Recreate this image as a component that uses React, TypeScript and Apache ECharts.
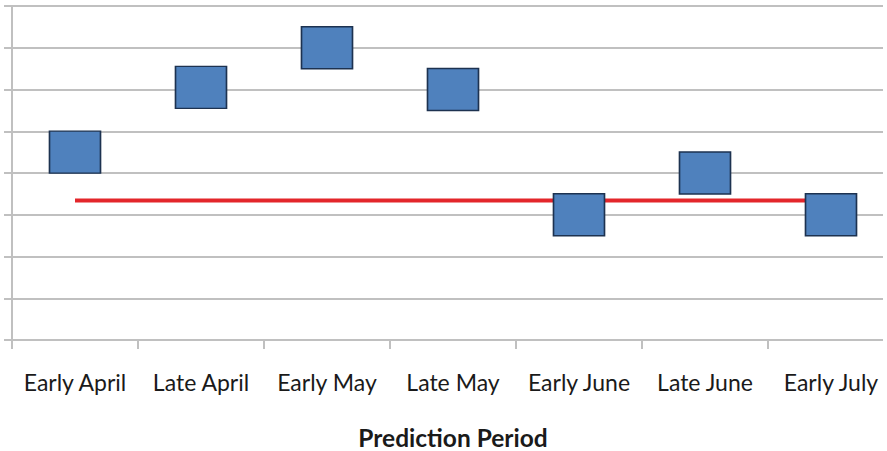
import React, { useEffect, useRef } from "react";
import * as echarts from "echarts";

// Prediction periods along the x axis
const periods = [
  "Early April",
  "Late April",
  "Early May",
  "Late May",
  "Early June",
  "Late June",
  "Early July",
];

// Predicted value for each period (drawn as square markers)
const predicted = [4.5, 6.05, 7.0, 6.0, 3.0, 4.0, 3.0];

// Reference level drawn as a horizontal red line
const reference = [3.34, 3.34, 3.34, 3.34, 3.34, 3.34, 3.34];

const axisName = "Prediction Period";

export default function App() {
  const ref = useRef<HTMLDivElement>(null);

  useEffect(() => {
    if (!ref.current) return;
    const chart = echarts.init(ref.current, null, { renderer: "svg" });
    const gray = "#c0c0c0";
    chart.setOption({
      animation: false,
      backgroundColor: "#ffffff",
      grid: {
        left: 12,
        top: 6,
        right: 0,
        bottom: 111,
        containLabel: false,
        outerBoundsMode: "none",
      },
      xAxis: {
        type: "category",
        data: periods,
        boundaryGap: true,
        axisLine: { show: true, lineStyle: { color: gray, width: 2 } },
        axisTick: {
          show: true,
          interval: 0,
          length: 9,
          lineStyle: { color: gray, width: 2 },
        },
        axisLabel: {
          interval: 0,
          hideOverlap: false,
          margin: 30,
          fontFamily: "Lato",
          fontSize: 23,
          color: "#1a1a1a",
        },
        name: axisName,
        nameLocation: "middle",
        nameGap: 85,
        nameTextStyle: {
          fontFamily: "Lato",
          fontSize: 24.5,
          fontWeight: "bold",
          color: "#1a1a1a",
        },
        splitLine: { show: false },
      },
      yAxis: {
        type: "value",
        min: 0,
        max: 8,
        interval: 1,
        axisLine: { show: true, lineStyle: { color: gray, width: 2 } },
        axisTick: { show: true, length: 8, lineStyle: { color: gray, width: 2 } },
        axisLabel: { show: false },
        splitLine: { show: true, lineStyle: { color: gray, width: 2 } },
      },
      series: [
        {
          type: "line",
          data: reference,
          symbol: "none",
          z: 2,
          lineStyle: { color: "#e3262b", width: 4 },
        },
        {
          type: "scatter",
          data: predicted,
          symbol: "rect",
          symbolSize: [51, 42],
          z: 3,
          itemStyle: {
            color: "#4f81bd",
            opacity: 1,
            borderColor: "#1d3250",
            borderWidth: 1.5,
          },
        },
      ],
    });
    return () => chart.dispose();
  }, []);

  return (
    <div
      style={{
        position: "fixed",
        left: 0,
        top: 0,
        width: 883,
        height: 451,
        overflow: "hidden",
        background: "#ffffff",
      }}
    >
      <div ref={ref} style={{ width: 894, height: 451 }} />
    </div>
  );
}
